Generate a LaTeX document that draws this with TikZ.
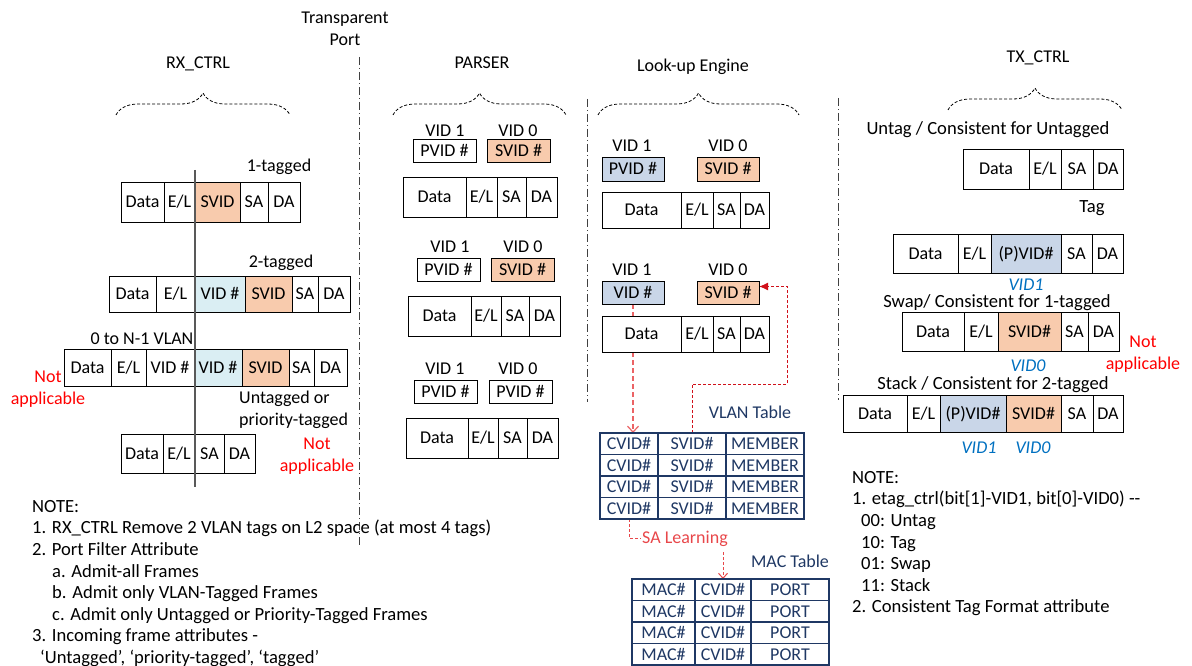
\documentclass[tikz,border=0pt]{standalone}
\usepackage{fontspec}
\setmainfont{Carlito}
\usepackage{xcolor}
\usepackage{tikz}
\usetikzlibrary{positioning,arrows.meta,decorations.pathreplacing,backgrounds}

\definecolor{svidorange}{HTML}{F8CBAD}
\definecolor{vidcyan}{HTML}{DAEEF3}
\definecolor{vidblue}{HTML}{C9D6E8}
\definecolor{tblnavy}{HTML}{1F3864}
\definecolor{vidtext}{HTML}{0070C0}
\definecolor{learnred}{HTML}{E8474A}
\definecolor{arrowred}{HTML}{D0101A}

\newcommand\cellfont{\fontsize{18}{22}\selectfont}
\newcommand\notefont{\fontsize{18.6}{21.6}\selectfont}

\begin{document}
\begin{tikzpicture}[
    x=1pt, y=-1pt, font=\cellfont,
    cell/.style={draw, fill=white, line width=0.9pt, inner sep=0pt, outer sep=0pt, minimum height=40pt, text height=13pt, text depth=1.5pt},
    svid/.style={fill=svidorange},
    cvid/.style={fill=vidcyan},
    pvid/.style={fill=vidblue},
    tagbox/.style={cell, minimum width=63pt, minimum height=23pt},
    tblcell/.style={draw=tblnavy, text=tblnavy, fill=white, line width=1.1pt, inner sep=0pt, outer sep=0pt, minimum height=21.5pt, text height=13pt, text depth=1.5pt},
    lbl/.style={inner sep=0pt, text height=13pt, text depth=1.5pt},
    txlbl/.style={lbl, font=\notefont},
    nap/.style={text=red, align=center, inner sep=0pt},
    vidtag/.style={inner sep=0pt, text height=12pt, text depth=0pt, text=vidtext, font=\cellfont\itshape},
    note/.style={align=left, inner sep=0pt, font=\notefont},
    brc/.style={decorate, decoration={brace, amplitude=22pt}, line width=0.8pt, dash pattern=on 3pt off 2pt},
    divider/.style={line width=1pt, draw=black!75, dash pattern=on 8pt off 3pt on 1pt off 3pt},
    tpline/.style={draw=black!65, line width=1.2pt},
    vlanarrow/.style={draw=learnred!85, line width=1.2pt, dash pattern=on 5pt off 3pt, -{Straight Barb[length=6pt, width=11pt]}},
    svidarrow/.style={draw=arrowred, line width=1pt, dash pattern=on 3pt off 2pt, -{Latex[length=9pt, width=8pt]}},
    learnline/.style={draw=learnred, line width=1pt, dash pattern=on 3pt off 2pt},
    learnarrow/.style={learnline, -{Straight Barb[length=5pt, width=9pt]}}
]
\useasboundingbox (0,0) rectangle (1192,666);

\node[lbl] (rxtitle) at (198,63) {RX\_CTRL};
\node[lbl] (pstitle) at (482,63) {PARSER};
\node[lbl] (lutitle) at (693,66) {Look-up Engine};
\node[lbl] (txtitle) at (1038,57) {TX\_CTRL};
\node[align=center, inner sep=0pt, anchor=north] (tport) at (345,12) {Transparent\\Port};

\draw[brc] (116,115) -- (290,115);
\draw[brc] (393,115) -- (566,115);
\draw[brc] (598,115) -- (799,115);
\draw[brc] (948,110) -- (1122,110);

\draw[divider] (359,57) -- (359,545);
\draw[divider] (587,99) -- (587,402);
\draw[divider] (838,98) -- (838,400);

\node[lbl] (tag1) at (279,166) {1-tagged};
\node[cell, minimum width=43pt, anchor=west] (r1d) at (121,202) {Data};
\node[cell, minimum width=31pt, right=0pt of r1d] (r1e) {E/L};
\node[cell, svid, minimum width=45pt, right=0pt of r1e] (r1s) {SVID};
\node[cell, minimum width=28pt, right=0pt of r1s] (r1sa) {SA};
\node[cell, minimum width=32pt, right=0pt of r1sa] (r1da) {DA};

\node[lbl] (tag2) at (281,262) {2-tagged};
\begin{scope}[cell/.append style={minimum height=36pt}]
\node[cell, minimum width=47pt, anchor=west] (r2d) at (109,294) {Data};
\node[cell, minimum width=39pt, right=0pt of r2d] (r2e) {E/L};
\node[cell, cvid, minimum width=50pt, right=0pt of r2e] (r2v) {VID \#};
\node[cell, svid, minimum width=47pt, right=0pt of r2v] (r2s) {SVID};
\node[cell, minimum width=26pt, right=0pt of r2s] (r2sa) {SA};
\node[cell, minimum width=32pt, right=0pt of r2sa] (r2da) {DA};
\end{scope}

\node[lbl] (tagn) at (142,339) {0 to N-1 VLAN};
\begin{scope}[cell/.append style={minimum height=37pt}]
\node[cell, minimum width=47pt, anchor=west] (r3d) at (64,367.5) {Data};
\node[cell, minimum width=35pt, right=0pt of r3d] (r3e) {E/L};
\node[cell, minimum width=48pt, right=0pt of r3e] (r3v) {VID \#};
\node[cell, cvid, minimum width=48pt, right=0pt of r3v] (r3w) {VID \#};
\node[cell, svid, minimum width=47pt, right=0pt of r3w] (r3s) {SVID};
\node[cell, minimum width=25pt, right=0pt of r3s] (r3sa) {SA};
\node[cell, minimum width=33pt, right=0pt of r3sa] (r3da) {DA};
\end{scope}
\node[nap, anchor=north] (rxnap1) at (48,371) {Not\\applicable};

\node[align=left, inner sep=0pt, anchor=north west] (untag) at (239,391) {Untagged or\\priority-tagged};
\begin{scope}[cell/.append style={minimum height=39pt}]
\node[cell, minimum width=42pt, anchor=west] (r4d) at (121,453.5) {Data};
\node[cell, minimum width=32pt, right=0pt of r4d] (r4e) {E/L};
\node[cell, minimum width=29pt, right=0pt of r4e] (r4sa) {SA};
\node[cell, minimum width=31pt, right=0pt of r4sa] (r4da) {DA};
\end{scope}
\node[nap, anchor=north] (rxnap2) at (317,438) {Not\\applicable};

\draw[tpline] (195,170) -- (195,487);

\node[lbl] (p1l1) at (445,131) {VID 1};
\node[lbl] (p1l0) at (518,131) {VID 0};
\node[tagbox] (p1a) at (444.5,150.5) {PVID \#};
\node[tagbox, svid] (p1b) at (518.5,150.5) {SVID \#};
\node[cell, minimum width=63pt, anchor=west] (p1d) at (403,197) {Data};
\node[cell, minimum width=31pt, right=0pt of p1d] (p1e) {E/L};
\node[cell, minimum width=29pt, right=0pt of p1e] (p1sa) {SA};
\node[cell, minimum width=31pt, right=0pt of p1sa] (p1da) {DA};

\node[lbl] (p2l1) at (450,247) {VID 1};
\node[lbl] (p2l0) at (523,247) {VID 0};
\node[tagbox] (p2a) at (448.5,269.5) {PVID \#};
\node[tagbox, svid] (p2b) at (522.5,269.5) {SVID \#};
\node[cell, minimum width=63pt, anchor=west] (p2d) at (408,316) {Data};
\node[cell, minimum width=30pt, right=0pt of p2d] (p2e) {E/L};
\node[cell, minimum width=28pt, right=0pt of p2e] (p2sa) {SA};
\node[cell, minimum width=31pt, right=0pt of p2sa] (p2da) {DA};

\node[lbl] (p3l1) at (445,369) {VID 1};
\node[lbl] (p3l0) at (518,369) {VID 0};
\node[tagbox] (p3a) at (445.5,391.5) {PVID \#};
\node[tagbox] (p3b) at (520.5,391.5) {PVID \#};
\node[cell, minimum width=62pt, anchor=west] (p3d) at (406,438) {Data};
\node[cell, minimum width=30pt, right=0pt of p3d] (p3e) {E/L};
\node[cell, minimum width=29pt, right=0pt of p3e] (p3sa) {SA};
\node[cell, minimum width=31pt, right=0pt of p3sa] (p3da) {DA};

\begin{scope}[cell/.append style={minimum height=36pt}]
\node[lbl] (l1l1) at (632,146) {VID 1};
\node[lbl] (l1l0) at (728,146) {VID 0};
\node[tagbox, pvid, minimum width=62pt, minimum height=24pt] (l1a) at (633,169) {PVID \#};
\node[tagbox, svid, minimum width=62pt, minimum height=24pt] (l1b) at (728,169) {SVID \#};
\node[cell, minimum width=79pt, anchor=west] (l1d) at (602,210) {Data};
\node[cell, minimum width=32pt, right=0pt of l1d] (l1e) {E/L};
\node[cell, minimum width=27pt, right=0pt of l1e] (l1sa) {SA};
\node[cell, minimum width=29pt, right=0pt of l1sa] (l1da) {DA};

\node[lbl] (l2l1) at (632,270) {VID 1};
\node[lbl] (l2l0) at (728,270) {VID 0};
\node[tagbox, pvid, minimum width=62pt] (l2a) at (633,292.5) {VID \#};
\node[tagbox, svid, minimum width=62pt] (l2b) at (728,292.5) {SVID \#};
\node[cell, minimum width=79pt, anchor=west] (l2d) at (602,334) {Data};
\node[cell, minimum width=32pt, right=0pt of l2d] (l2e) {E/L};
\node[cell, minimum width=27pt, right=0pt of l2e] (l2sa) {SA};
\node[cell, minimum width=29pt, right=0pt of l2sa] (l2da) {DA};
\end{scope}

\node[lbl, text=tblnavy] (vlantitle) at (750,413) {VLAN Table};
\node[tblcell, minimum width=58pt, anchor=north west] (v1c) at (600,433) {CVID\#};
\node[tblcell, minimum width=68pt, right=0pt of v1c] (v1s) {SVID\#};
\node[tblcell, minimum width=78pt, right=0pt of v1s] (v1m) {MEMBER};
\node[tblcell, minimum width=58pt, below=0pt of v1c] (v2c) {CVID\#};
\node[tblcell, minimum width=68pt, right=0pt of v2c] (v2s) {SVID\#};
\node[tblcell, minimum width=78pt, right=0pt of v2s] (v2m) {MEMBER};
\node[tblcell, minimum width=58pt, below=0pt of v2c] (v3c) {CVID\#};
\node[tblcell, minimum width=68pt, right=0pt of v3c] (v3s) {SVID\#};
\node[tblcell, minimum width=78pt, right=0pt of v3s] (v3m) {MEMBER};
\node[tblcell, minimum width=58pt, below=0pt of v3c] (v4c) {CVID\#};
\node[tblcell, minimum width=68pt, right=0pt of v4c] (v4s) {SVID\#};
\node[tblcell, minimum width=78pt, right=0pt of v4s] (v4m) {MEMBER};

\node[lbl, text=learnred, anchor=west, inner xsep=1pt] (salearn) at (641,538) {SA Learning};

\node[lbl, text=tblnavy] (mactitle) at (790,562) {MAC Table};
\node[tblcell, minimum width=63pt, anchor=north west] (m1a) at (632,579) {MAC\#};
\node[tblcell, minimum width=56pt, right=0pt of m1a] (m1c) {CVID\#};
\node[tblcell, minimum width=78pt, right=0pt of m1c] (m1p) {PORT};
\node[tblcell, minimum width=63pt, below=0pt of m1a] (m2a) {MAC\#};
\node[tblcell, minimum width=56pt, right=0pt of m2a] (m2c) {CVID\#};
\node[tblcell, minimum width=78pt, right=0pt of m2c] (m2p) {PORT};
\node[tblcell, minimum width=63pt, below=0pt of m2a] (m3a) {MAC\#};
\node[tblcell, minimum width=56pt, right=0pt of m3a] (m3c) {CVID\#};
\node[tblcell, minimum width=78pt, right=0pt of m3c] (m3p) {PORT};
\node[tblcell, minimum width=63pt, below=0pt of m3a] (m4a) {MAC\#};
\node[tblcell, minimum width=56pt, right=0pt of m4a] (m4c) {CVID\#};
\node[tblcell, minimum width=78pt, right=0pt of m4c] (m4p) {PORT};

\coordinate (vturn) at (787,384);
\coordinate (learnout) at (723,552);
\begin{scope}[on background layer]
\draw[vlanarrow] (l2a.south) -- (l2a.south |- v1c.north);
\draw[svidarrow] (v1s.north) |- (vturn) |- ([yshift=6pt]l2b.east);
\draw[learnline] (v4c.south) |- (salearn.west);
\draw[learnarrow] (learnout) -- (m1c.north);
\end{scope}

\node[txlbl] (txu) at (988,129) {Untag / Consistent for Untagged};
\node[cell, minimum width=66pt, anchor=west] (tud) at (963,169) {Data};
\node[cell, minimum width=32pt, right=0pt of tud] (tue) {E/L};
\node[cell, minimum width=32pt, right=0pt of tue] (tusa) {SA};
\node[cell, minimum width=30pt, right=0pt of tusa] (tuda) {DA};

\node[txlbl] (txt) at (1092,207) {Tag};
\begin{scope}[cell/.append style={minimum height=39pt}]
\node[cell, minimum width=65pt, anchor=west] (ttd) at (893,253.5) {Data};
\node[cell, minimum width=33pt, right=0pt of ttd] (tte) {E/L};
\node[cell, pvid, minimum width=70pt, right=0pt of tte] (ttv) {(P)VID\#};
\node[cell, minimum width=31pt, right=0pt of ttv] (ttsa) {SA};
\node[cell, minimum width=31pt, right=0pt of ttsa] (ttda) {DA};
\end{scope}
\node[vidtag] (ttvid) at (1026,284) {VID1};

\node[txlbl] (txs) at (997,302) {Swap/ Consistent for 1-tagged};
\begin{scope}[cell/.append style={minimum height=39pt}]
\node[cell, minimum width=62pt, anchor=west] (tsd) at (902,331.5) {Data};
\node[cell, minimum width=34pt, right=0pt of tsd] (tse) {E/L};
\node[cell, svid, minimum width=63pt, right=0pt of tse] (tss) {SVID\#};
\node[cell, minimum width=27pt, right=0pt of tss] (tssa) {SA};
\node[cell, minimum width=31pt, right=0pt of tssa] (tsda) {DA};
\end{scope}
\node[vidtag] (tsvid) at (1028,365) {VID0};
\node[nap, anchor=north] (txnap) at (1143,336) {Not\\applicable};

\node[txlbl] (txk) at (993,384) {Stack / Consistent for 2-tagged};
\begin{scope}[cell/.append style={minimum height=37pt}]
\node[cell, minimum width=64pt, anchor=west] (tkd) at (843,413.5) {Data};
\node[cell, minimum width=33pt, right=0pt of tkd] (tke) {E/L};
\node[cell, pvid, minimum width=66pt, right=0pt of tke] (tkv) {(P)VID\#};
\node[cell, svid, minimum width=55pt, right=0pt of tkv] (tks) {SVID\#};
\node[cell, minimum width=32pt, right=0pt of tks] (tksa) {SA};
\node[cell, minimum width=30pt, right=0pt of tksa] (tkda) {DA};
\end{scope}
\node[vidtag] (tkvid1) at (979,447) {VID1};
\node[vidtag] (tkvid0) at (1033,447) {VID0};

\node[note, anchor=north west] (rxnote) at (32,500) {NOTE:\\
1. RX\_CTRL Remove 2 VLAN tags on L2 space (at most 4 tags)\\
2. Port Filter Attribute\\
\hspace*{20pt}a. Admit-all Frames\\
\hspace*{20pt}b. Admit only VLAN-Tagged Frames\\
\hspace*{20pt}c. Admit only Untagged or Priority-Tagged Frames\\
3. Incoming frame attributes -\\
\hspace*{8pt}‘Untagged’, ‘priority-tagged’, ‘tagged’};

\node[note, anchor=north west] (txnote) at (852,471) {NOTE:\\
1. etag\_ctrl(bit[1]-VID1, bit[0]-VID0) -{}-\\
\hspace*{9pt}00: Untag\\
\hspace*{9pt}10: Tag\\
\hspace*{9pt}01: Swap\\
\hspace*{9pt}11: Stack\\
2. Consistent Tag Format attribute};
\end{tikzpicture}
\end{document}
